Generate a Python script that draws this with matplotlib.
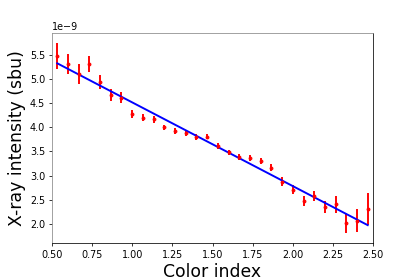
import matplotlib
matplotlib.use("Agg")
import matplotlib.pyplot as plt
import numpy as np

# colour index bins and measured x-ray intensity (units of 1e-9 sbu)
color_index = [0.533, 0.600, 0.667, 0.733, 0.800, 0.867, 0.933, 1.000, 1.067, 1.133,
               1.200, 1.267, 1.333, 1.400, 1.467, 1.533, 1.600, 1.667, 1.733, 1.800,
               1.867, 1.933, 2.000, 2.067, 2.133, 2.200, 2.267, 2.333, 2.400, 2.467]
intensity = [5.49, 5.31, 5.11, 5.31, 4.94, 4.67, 4.62, 4.28, 4.20, 4.17,
             4.00, 3.93, 3.88, 3.80, 3.81, 3.62, 3.48, 3.38, 3.37, 3.30,
             3.16, 2.87, 2.71, 2.47, 2.58, 2.35, 2.40, 2.01, 2.06, 2.31]
intensity_err = [0.27, 0.21, 0.20, 0.17, 0.15, 0.12, 0.11, 0.08, 0.07, 0.07,
                 0.06, 0.06, 0.06, 0.06, 0.06, 0.06, 0.06, 0.06, 0.06, 0.07,
                 0.07, 0.09, 0.09, 0.10, 0.11, 0.13, 0.17, 0.20, 0.24, 0.33]

# linear fit
fit_slope = -1.737
fit_intercept = 6.256

scale = 1e-9
x = np.array(color_index)
y = np.array(intensity) * scale
yerr = np.array(intensity_err) * scale

fig = plt.figure(figsize=(415 / 69.2, 277 / 69.2), dpi=69.2)
ax = fig.add_axes([52 / 415, 1 - 243 / 277, 321 / 415, 210 / 277])

ax.errorbar(x, y, yerr=yerr, fmt=".", color="red", ecolor="red",
            elinewidth=2, markersize=6)
ax.plot(x, (fit_slope * x + fit_intercept) * scale, color="blue", lw=2)

ax.set_xlim(0.5, 2.5)
ax.set_ylim(1.60e-9, 5.96e-9)
ax.set_xlabel("Color index", fontsize=18, labelpad=3)
ax.set_ylabel("X-ray intensity (sbu)", fontsize=18)

ax.spines["left"].set_color("#888888")
ax.spines["top"].set_color("#888888")

fig.savefig("out.png", dpi=69.2)
